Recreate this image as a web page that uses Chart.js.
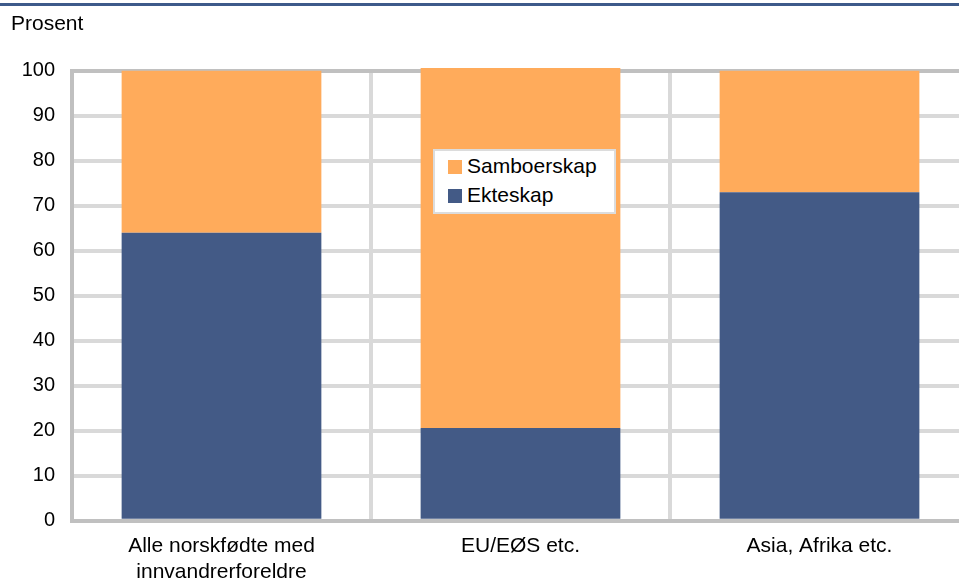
<!DOCTYPE html>
<html>
<head>
<meta charset="utf-8">
<script src="https://cdn.jsdelivr.net/npm/chart.js@4"></script>
<style>
  body { margin: 0; overflow: hidden; background: #fff; font-family: "Liberation Sans", Arial, sans-serif; }
  #wrap { position: relative; width: 959px; height: 580px; overflow: hidden; }
  #topline { position: absolute; left: 0; top: 3px; width: 959px; height: 3px; background: #3d5a8a; }
  #ylabel { position: absolute; left: 11px; top: 11px; font-size: 21px; color: #000; }
  #chartBox { position: absolute; left: 0; top: 0; width: 980px; height: 580px; }
  #legend { position: absolute; left: 433px; top: 149px; width: 179px; height: 61px; background: #fff;
            border: 2px solid #dcdcdc; font-size: 21px; color: #000; }
  .item { position: absolute; left: 13px; height: 24px; line-height: 24px; white-space: nowrap; }
  .item span.sw { display: inline-block; width: 14px; height: 14px; margin-right: 5px; vertical-align: -1px; }
</style>
</head>
<body>
<div id="wrap">
  <div id="topline"></div>
  <div id="chartBox"><canvas id="barChart" width="980" height="580"></canvas></div>
  <div id="ylabel">Prosent</div>
  <div id="legend">
    <div class="item" style="top:3px"><span class="sw" style="background:#ffab5b"></span>Samboerskap</div>
    <div class="item" style="top:32px"><span class="sw" style="background:#435a86"></span>Ekteskap</div>
  </div>
</div>
<script>
// data
const categories = [['Alle norskfødte med', 'innvandrerforeldre'], 'EU/EØS etc.', 'Asia, Afrika etc.'];
const ekteskap = [64, 20.6, 73];
const samboerskap = [36, 80, 27];
const yTicks = [0, 10, 20, 30, 40, 50, 60, 70, 80, 90, 100];

const ctx = document.getElementById('barChart').getContext('2d');
const barChart = new Chart(ctx, {
  type: 'bar',
  data: {
    labels: categories,
    datasets: [{
      label: 'Ekteskap',
      data: ekteskap,
      backgroundColor: '#435a86',
      clip: false
    }, {
      label: 'Samboerskap',
      data: samboerskap,
      backgroundColor: '#ffab5b',
      clip: false
    }]
  },
  options: {
    responsive: false,
    animation: false,
    layout: { padding: { top: 70.7, right: 11, left: 0, bottom: 0 } },
    datasets: { bar: { categoryPercentage: 1, barPercentage: 0.668 } },
    plugins: { legend: { display: false }, tooltip: { enabled: false } },
    scales: {
      x: {
        stacked: true,
        offset: true,
        grid: { offset: true, color: '#d9d9d9', lineWidth: 4, drawTicks: false },
        border: { color: '#c0c0c0', width: 4 },
        ticks: { color: '#000', padding: 12, maxRotation: 0, autoSkip: false,
                 font: { family: '"Liberation Sans", Arial', size: 21, lineHeight: 1.24 } },
        afterFit: (scale) => { scale.height = 59.3; }
      },
      y: {
        stacked: true,
        min: 0,
        max: 100,
        afterBuildTicks: (scale) => { scale.ticks = yTicks.map(v => ({ value: v })); },
        grid: {
          color: (c) => (c.tick && c.tick.value === 100) ? '#c0c0c0' : '#d9d9d9',
          lineWidth: 4,
          drawTicks: false
        },
        border: { color: '#c0c0c0', width: 4 },
        ticks: { color: '#000', padding: 17,
                 font: { family: '"Liberation Sans", Arial', size: 20 } },
        afterFit: (scale) => { scale.width = 72; }
      }
    }
  }
});
</script>
</body>
</html>
